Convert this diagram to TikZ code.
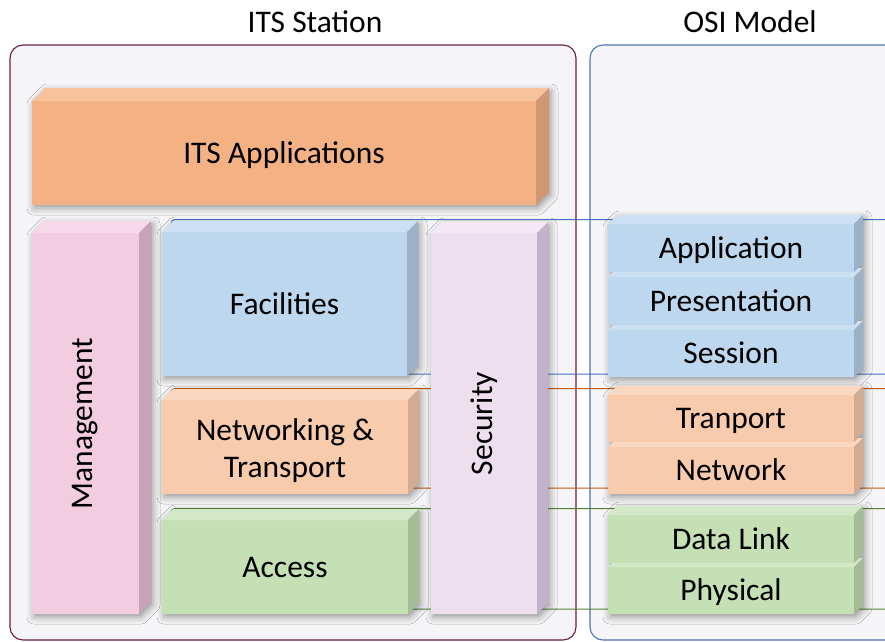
\documentclass[tikz,border=0pt]{standalone}
\usepackage{fontspec}
\setmainfont{Carlito}
\usetikzlibrary{shadows.blur}
\definecolor{itsframe}{HTML}{6C1D45}
\definecolor{osiframe}{HTML}{4A74BC}
\definecolor{framefill}{HTML}{F5F4F6}
\definecolor{blueline}{HTML}{4472C4}
\definecolor{orangeline}{HTML}{C55A11}
\definecolor{greenline}{HTML}{548235}
% block colours: F front, T top, S side
\definecolor{orgF}{HTML}{F4B183}\definecolor{orgT}{HTML}{F7C29C}\definecolor{orgS}{HTML}{CF9872}
\definecolor{peaF}{HTML}{F8CBAD}\definecolor{peaT}{HTML}{FAD7C0}\definecolor{peaS}{HTML}{D3AB91}
\definecolor{bluF}{HTML}{BDD7EE}\definecolor{bluT}{HTML}{CBE0F2}\definecolor{bluS}{HTML}{9BB2C6}
\definecolor{grnF}{HTML}{C5E0B4}\definecolor{grnT}{HTML}{D3E8C7}\definecolor{grnS}{HTML}{A4BD96}
\definecolor{pnkF}{HTML}{F2CDE0}\definecolor{pnkT}{HTML}{F5D9E8}\definecolor{pnkS}{HTML}{C7A2B8}
\definecolor{lavF}{HTML}{EEDFEE}\definecolor{lavT}{HTML}{F3E8F3}\definecolor{lavS}{HTML}{C2B3CA}
\tikzset{
  frame/.style={rounded corners=13pt, fill=framefill, line width=1.1pt},
  blockfront/.style={inner sep=0pt, outer sep=0pt, align=center,
     font=\fontsize{31.5}{38}\selectfont, text=black},
  captext/.style={text height=20pt, text depth=0pt},
  twoline/.style={},
  rottext/.style={},
  title/.style={font=\fontsize{31.5}{38}\selectfont, text=black},
  layerline/.style={line width=1pt, rounded corners=4pt},
  soft/.style={blur shadow={shadow xshift=2pt, shadow yshift=-3pt, shadow blur radius=7pt, shadow opacity=38}}
}
% shadow of a block: x1, y1, x2, y2, depth
\newcommand\shd[5]{%
  \path[soft] (#1,#4) -- (#1,#2) -- ++(#5,-#5) -- (#3+#5,#2-#5) -- (#3+#5,#4-#5) -- (#3,#4) -- cycle;
}
% #1 name, #2 x1, #3 y1, #4 x2, #5 y2, #6 depth, #7 colour prefix, #8 text, #9 text style
\newcommand\blk[9]{%
  \node[blockfront, #9, fill=#7F, minimum width={#4-#2}, minimum height={#5-#3}] (#1) at ({(#2+#4)/2},{(#3+#5)/2}) {#8};
  \fill[#7T] (#1.north west) -- ++(#6,-#6) -- ([shift={(#6,-#6)}]#1.north east) -- (#1.north east) -- cycle;
  \fill[#7S] (#1.north east) -- ++(#6,-#6) -- ([shift={(#6,-#6)}]#1.south east) -- (#1.south east) -- cycle;
}
\begin{document}
\begin{tikzpicture}[x=1pt,y=-1pt]
\clip (0,0) rectangle (885,641);
\fill[white] (0,0) rectangle (885,641);
% titles
\node[title] (t1) at (315,22) {ITS Station};
\node[title] (t2) at (750,22) {OSI Model};
% frames
\draw[frame, draw=itsframe] (10,45) rectangle (576,640);
\draw[frame, draw=osiframe] (590,45) rectangle (910,640);
% layer outlines spanning both stacks
\draw[layerline, draw=blueline] (171,374) rectangle (910,219.5);
\draw[layerline, draw=orangeline] (171,488) rectangle (910,388.5);
\draw[layerline, draw=greenline] (171,609) rectangle (910,508.5);
% shadows
\shd{32}{101}{536}{205}{13}
\shd{32}{233}{139}{614}{12}
\shd{162}{232}{407}{376}{11}
\shd{162}{400}{408}{494}{11}
\shd{162}{520}{408}{614}{11}
\shd{431}{233}{537}{614}{11}
\shd{608}{224}{854}{377}{9}
\shd{608}{395}{854}{494}{9}
\shd{608}{515}{854}{614}{9}
% ITS station blocks
\blk{apps}{32}{101}{536}{205}{13}{org}{ITS Applications}{captext}
\blk{mgmt}{32}{233}{139}{614}{12}{pnk}{\rotatebox{90}{Management}}{rottext}
\blk{fac}{162}{232}{407}{376}{11}{blu}{Facilities}{captext}
\node[blockfront, fill=peaF, minimum width=246, minimum height=94] (net) at (285,447) {};
\fill[peaT] (net.north west) -- ++(11,-11) -- ([shift={(11,-11)}]net.north east) -- (net.north east) -- cycle;
\fill[peaS] (net.north east) -- ++(11,-11) -- ([shift={(11,-11)}]net.south east) -- (net.south east) -- cycle;
\node[blockfront, yshift=-4pt] (nettext) at (net.center) {Networking \&\\[-1pt]Transport};
\blk{acc}{162}{520}{408}{614}{11}{grn}{Access}{captext}
\blk{sec}{431}{233}{537}{614}{11}{lav}{\rotatebox{90}{Security}}{rottext}
% OSI blocks (bottom first)
\blk{phy}{608}{567}{854}{614}{9}{grn}{Physical}{captext}
\blk{dl}{608}{515}{854}{563}{9}{grn}{Data Link}{captext}
\blk{nw}{608}{447}{854}{494}{9}{pea}{Network}{captext}
\blk{tp}{608}{395}{854}{442}{9}{pea}{Tranport}{captext}
\blk{ses}{608}{330}{854}{377}{9}{blu}{Session}{captext}
\blk{pre}{608}{277}{854}{325}{9}{blu}{Presentation}{captext}
\blk{app}{608}{224}{854}{272}{9}{blu}{Application}{captext}
\end{tikzpicture}
\end{document}
